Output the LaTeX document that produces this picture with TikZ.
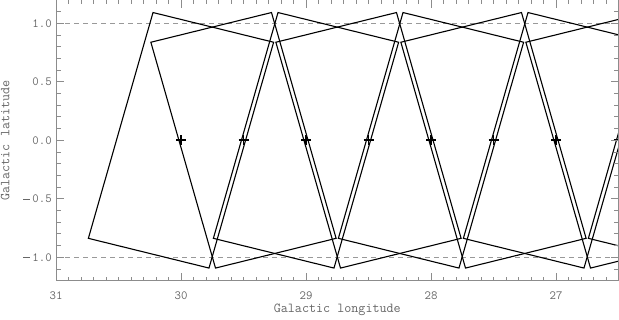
\documentclass[tikz,border=0pt]{standalone}
\usepackage{xcolor}
\definecolor{axisgray}{gray}{0.55}
\definecolor{textgray}{gray}{0.40}
\definecolor{dashgray}{gray}{0.6}
\newcommand{\negsign}{\rule[3.1pt]{7pt}{0.7pt}\hspace{2pt}}
\begin{document}
\begin{tikzpicture}[x=1pt,y=1pt,
  fp/.style={draw=black,line width=1.1pt,line join=miter},
  crossmark/.style={draw=black,line width=1.7pt},
  framebox/.style={draw=axisgray,line width=0.9pt},
  tickline/.style={draw=axisgray,line width=0.8pt},
  guide/.style={draw=dashgray,line width=0.8pt,dash pattern=on 5pt off 4pt},
  ticklabel/.style={text=textgray,font=\fontsize{12.5}{13}\selectfont\ttfamily,inner sep=0pt},
  axislabel/.style={text=textgray,font=\fontsize{13.7}{15}\selectfont\ttfamily,inner sep=0pt}]
\useasboundingbox (0,0) rectangle (619,320);
% data coordinates: (longitude, latitude)
\begin{scope}[x=-125pt,y=117pt,shift={(3931pt,179.7pt)}]
  % guide lines at b = +-1
  \draw[guide] (31,1) -- (26.5,1);
  \draw[guide] (31,-1) -- (26.5,-1);
  \begin{scope}
    \clip (31,-1.2) rectangle (26.5,1.2);
    % footprints leaning "/"
    \foreach \c in {30,29,28,27,26}{
      \draw[fp] ({\c+0.224},1.092) -- ({\c-0.741},0.838) -- ({\c-0.224},-1.092) -- ({\c+0.741},-0.838) -- cycle;
    }
    % footprints leaning "\"
    \foreach \c in {29.5,28.5,27.5,26.5}{
      \draw[fp] ({\c-0.224},1.092) -- ({\c+0.741},0.838) -- ({\c+0.224},-1.092) -- ({\c-0.741},-0.838) -- cycle;
    }
    % pointing centres
    \foreach \c/\n in {30/p1,29.5/p2,29/p3,28.5/p4,28/p5,27.5/p6,27/p7,26.5/p8}{
      \coordinate (\n) at (\c,0);
      \draw[crossmark] (\n) ++(-5pt,0pt) -- ++(10pt,0pt);
      \draw[crossmark] (\n) ++(0pt,-5pt) -- ++(0pt,10pt);
    }
  \end{scope}
  % ticks on x axes
  \foreach \i in {0,...,45}{
    \pgfmathsetmacro{\l}{31-0.1*\i}
    \draw[tickline] (\l,-1.2) -- ++(0pt,4pt);
    \draw[tickline] (\l,1.2) -- ++(0pt,-4pt);
  }
  \foreach \l in {31,30,29,28,27}{
    \draw[tickline] (\l,-1.2) -- ++(0pt,8pt);
    \draw[tickline] (\l,1.2) -- ++(0pt,-8pt);
  }
  % ticks on y axes
  \foreach \j in {-12,...,12}{
    \pgfmathsetmacro{\b}{0.1*\j}
    \draw[tickline] (31,\b) -- ++(5pt,0pt);
    \draw[tickline] (26.5,\b) -- ++(-5pt,0pt);
  }
  \foreach \b in {-1,-0.5,0,0.5,1}{
    \draw[tickline] (31,\b) -- ++(7.5pt,0pt);
    \draw[tickline] (26.5,\b) -- ++(-7.5pt,0pt);
  }
  \draw[framebox] (31,-1.2) rectangle (26.5,1.2);
\end{scope}
% tick labels
\node[ticklabel,anchor=base] (x31) at (56,20.5) {31};
\node[ticklabel,anchor=base] (x30) at (181,20.5) {30};
\node[ticklabel,anchor=base] (x29) at (306,20.5) {29};
\node[ticklabel,anchor=base] (x28) at (431,20.5) {28};
\node[ticklabel,anchor=base] (x27) at (556,20.5) {27};
\node[ticklabel,anchor=east] (y1) at (52,296.7) {1.0};
\node[ticklabel,anchor=east] (y2) at (52,238.2) {0.5};
\node[ticklabel,anchor=east] (y3) at (52,179.7) {0.0};
\node[ticklabel,anchor=east] (y4) at (52,121.2) {\negsign 0.5};
\node[ticklabel,anchor=east] (y5) at (52,62.7) {\negsign 1.0};
% axis titles
\node[axislabel,anchor=base] (xlab) at (337.3,7.8) {Galactic longitude};
\node[axislabel,anchor=base,rotate=90] (ylab) at (9.5,179.5) {Galactic latitude};
\end{tikzpicture}
\end{document}
